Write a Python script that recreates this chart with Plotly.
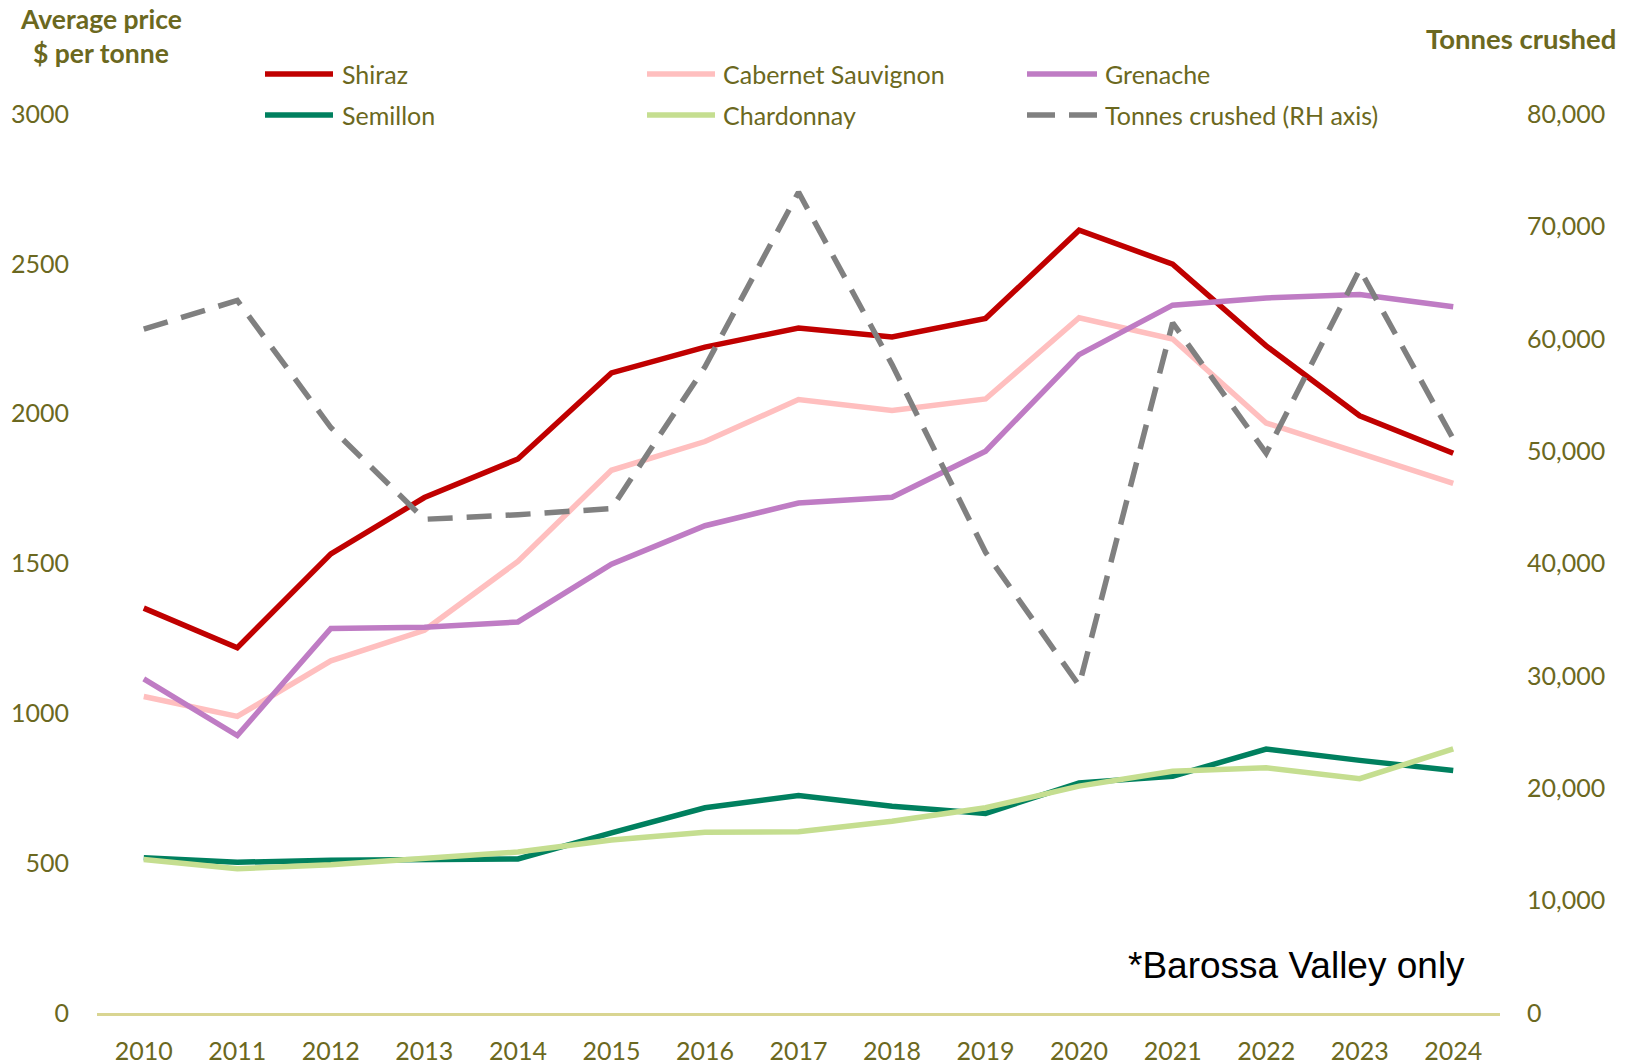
import plotly.graph_objects as go

years = [str(y) for y in range(2010, 2025)]
shiraz = [1351, 1219, 1532, 1720, 1849, 2136, 2222, 2286, 2256, 2318, 2612, 2499, 2226, 1993, 1868]
cabernet = [1056, 990, 1175, 1277, 1507, 1811, 1907, 2047, 2011, 2049, 2320, 2249, 1969, 1868, 1767]
grenache = [1115, 926, 1283, 1287, 1305, 1498, 1626, 1702, 1721, 1875, 2197, 2362, 2386, 2398, 2357]
semillon = [518, 503, 510, 514, 514, 601, 685, 726, 690, 666, 768, 790, 881, 843, 809]
chardonnay = [512, 481, 495, 518, 537, 577, 603, 605, 640, 685, 757, 807, 818, 782, 881]
tonnes = [60855, 63410, 52100, 43934, 44343, 44885, 57500, 73043, 57700, 41000, 29140, 61415, 49814, 66184, 51085]

price_ticks = [0, 500, 1000, 1500, 2000, 2500, 3000]
tonne_ticks = [0, 10000, 20000, 30000, 40000, 50000, 60000, 70000, 80000]

series = [
    ("Shiraz", shiraz, "#C00000", "solid", "y"),
    ("Cabernet Sauvignon", cabernet, "#FFBFBF", "solid", "y"),
    ("Grenache", grenache, "#BF7CC4", "solid", "y"),
    ("Semillon", semillon, "#00805F", "solid", "y"),
    ("Chardonnay", chardonnay, "#C5DE90", "solid", "y"),
    ("Tonnes crushed (RH axis)", tonnes, "#808080", "25px,14px", "y2"),
]

W, H = 1630, 1064
L, R, T, B = 97, 130, 114, 51
PW, PH = W - L - R, H - T - B
OLIVE = "#6B6820"
FONT = "Lato"


def px(x):
    return (x - L) / PW


def py(y):
    return (H - B - y) / PH


fig = go.Figure()
for name, vals, color, dash, yax in series:
    fig.add_trace(go.Scatter(
        x=years, y=vals, name=name, mode="lines", yaxis=yax,
        line=dict(color=color, width=5.5, dash=dash),
        showlegend=False,
    ))

# manual legend: 3 columns x 2 rows
col_line = [(265, 333), (647, 715), (1027, 1097)]
col_text = [340, 721, 1103]
row_y = [74, 115]
for i, (name, vals, color, dash, yax) in enumerate(series):
    r, c = divmod(i, 3)
    x0, x1 = col_line[c]
    yy = py(row_y[r])
    fig.add_shape(type="line", xref="paper", yref="paper",
                  x0=px(x0), x1=px(x1), y0=yy, y1=yy,
                  line=dict(color=color, width=5.5,
                            dash="28px,14px" if dash != "solid" else "solid"))
    fig.add_annotation(xref="paper", yref="paper", x=px(col_text[c]), y=yy,
                       text=name, showarrow=False, xanchor="left", yanchor="middle",
                       font=dict(family=FONT, size=25, color=OLIVE))

fig.add_annotation(xref="paper", yref="paper", x=px(101), y=py(19),
                   text="<b>Average price</b>", showarrow=False,
                   xanchor="center", yanchor="middle", borderpad=0,
                   font=dict(family=FONT, size=26.5, color=OLIVE))
fig.add_annotation(xref="paper", yref="paper", x=px(101), y=py(53),
                   text="<b>$ per tonne</b>", showarrow=False,
                   xanchor="center", yanchor="middle", borderpad=0,
                   font=dict(family=FONT, size=26.5, color=OLIVE))
fig.add_annotation(xref="paper", yref="paper", x=px(1618), y=py(38),
                   text="<b>Tonnes crushed</b>", showarrow=False,
                   xanchor="right", yanchor="middle",
                   font=dict(family=FONT, size=27.5, color=OLIVE))
fig.add_annotation(xref="paper", yref="paper", x=px(1467), y=py(965),
                   text="*Barossa Valley only", showarrow=False,
                   xanchor="right", yanchor="middle",
                   font=dict(family="Liberation Sans", size=37, color="#000000"))

fig.update_layout(
    width=W, height=H,
    margin=dict(l=L, r=R, t=T, b=B, autoexpand=False),
    paper_bgcolor="white", plot_bgcolor="white",
    font=dict(family=FONT, size=25, color=OLIVE),
    xaxis=dict(type="category", range=[-0.5, len(years) - 0.5],
               showgrid=False, zeroline=False,
               showline=True, linecolor="#D9D592", linewidth=2.5,
               ticks="", ticklabelstandoff=14,
               tickfont=dict(family=FONT, size=25, color=OLIVE)),
    yaxis=dict(range=[0, 3000], tickvals=price_ticks,
               showgrid=False, zeroline=False, showline=False, ticks="",
               ticklabelstandoff=27,
               tickfont=dict(family=FONT, size=25, color=OLIVE)),
    yaxis2=dict(range=[0, 80000], tickvals=tonne_ticks, overlaying="y", side="right",
                tickformat=",d",
                showgrid=False, zeroline=False, showline=False, ticks="",
                ticklabelstandoff=26,
                tickfont=dict(family=FONT, size=25, color=OLIVE)),
)

fig.write_html("out.html",
               config={"displayModeBar": False},
               post_script="document.body.style.margin='0px';document.body.style.padding='0px';")
